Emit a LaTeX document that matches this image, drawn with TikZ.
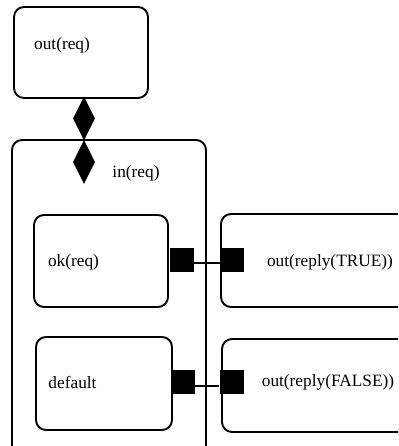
\documentclass[tikz,border=0pt]{standalone}
\usepackage{fontspec}
\setmainfont{Liberation Serif}
\usetikzlibrary{shapes.geometric}
\begin{document}
\begin{tikzpicture}[x=1pt,y=-1pt,
  box/.style={draw,line width=1.9pt,rounded corners=10pt,inner sep=0pt},
  lbl/.style={inner sep=0pt,font=\fontsize{17.3}{20}\selectfont},
  port/.style={fill=black,inner sep=0pt,minimum width=24pt,minimum height=24pt},
  dia/.style={diamond,fill=black,inner sep=0pt,minimum width=22pt,minimum height=44pt},
  link/.style={line width=1.4pt}]
\useasboundingbox (0,0) rectangle (398,446);
\clip (0,0) rectangle (398,446);
% top box
\node[box,minimum width=134pt,minimum height=91pt] (top) at (81,52.5) {};
\node[lbl] (toplbl) at (62,45) {out(req)};
% outer container
\node[box,minimum width=194pt,minimum height=330pt] (outer) at (109,305) {};
\node[lbl] (inlbl) at (136,173) {in(req)};
% diamonds
\node[dia] (d1) at (84,118.5) {};
\node[dia] (d2) at (84,162) {};
% ok box
\node[box,minimum width=134pt,minimum height=92pt] (ok) at (101,261) {};
\node[lbl] (oklbl) at (73.5,262) {ok(req)};
% default box
\node[box,minimum width=136pt,minimum height=93pt] (def) at (104,383.5) {};
\node[lbl] (deflbl) at (72.5,382) {default};
% right boxes
\node[box,minimum width=199pt,minimum height=93pt] (tr) at (320.5,260.5) {};
\node[lbl] (trlbl) at (330,262) {out(reply(TRUE))};
\node[box,minimum width=199pt,minimum height=93pt] (fa) at (321.5,385.5) {};
\node[lbl] (falbl) at (328,382) {out(reply(FALSE))};
% ports
\node[port] (p1) at (182,259.5) {};
\node[port] (p2) at (232,259.5) {};
\node[port] (p3) at (183,382) {};
\node[port] (p4) at (231.5,382) {};
\draw[link] ([yshift=-3.5pt]p1.east) -- ([yshift=-3.5pt]p2.west);
\draw[link] ([yshift=-4pt]p3.east) -- ([yshift=-4pt]p4.west);
\end{tikzpicture}
\end{document}
